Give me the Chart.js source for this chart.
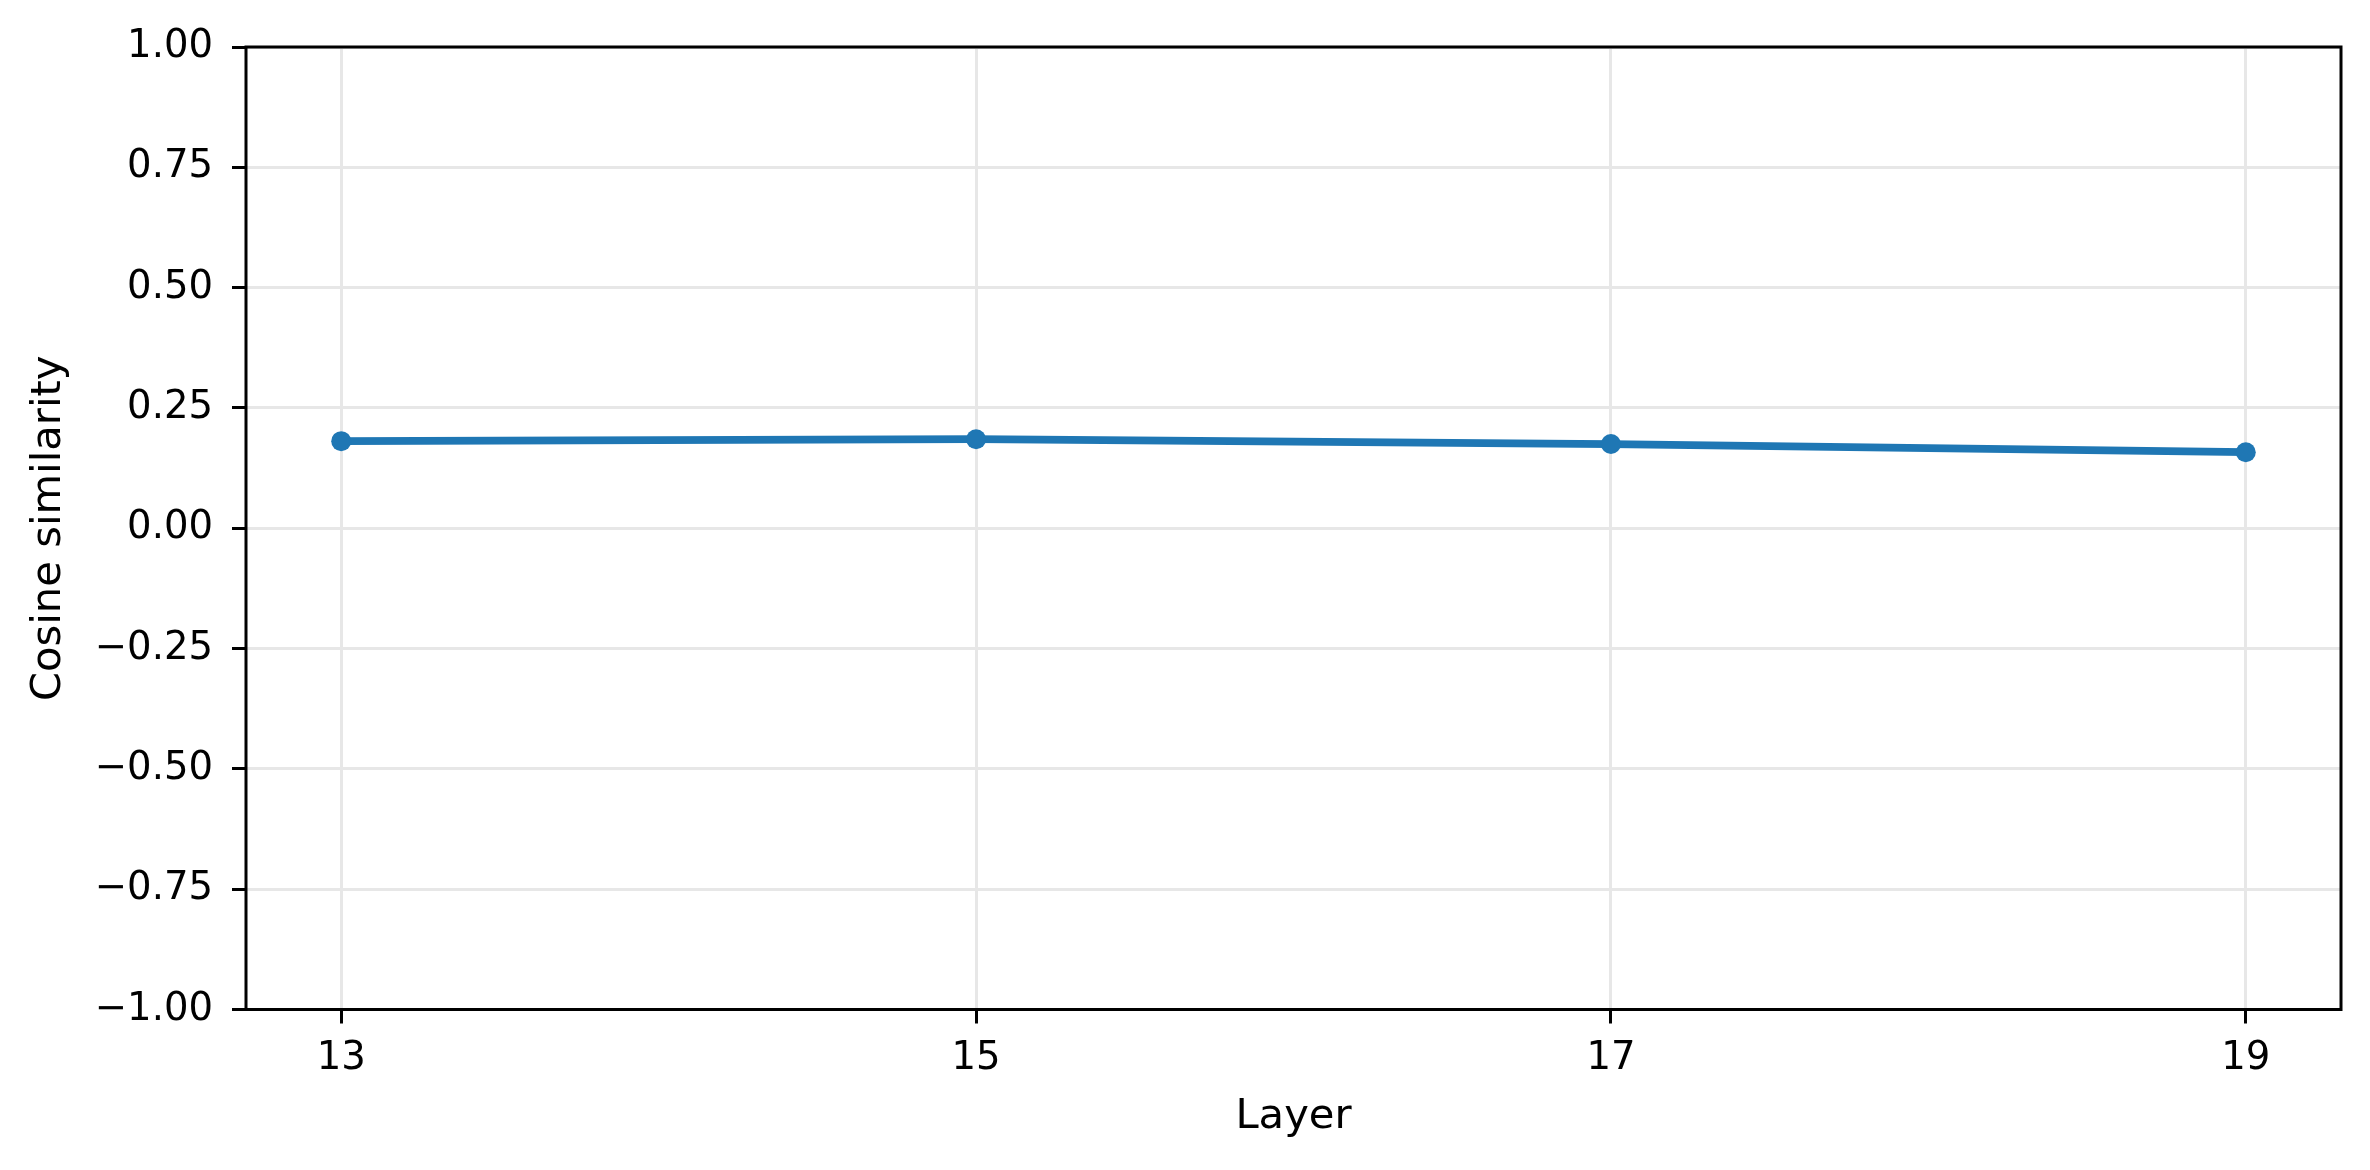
<!DOCTYPE html>
<html>
<head>
<meta charset="utf-8">
<script src="https://cdn.jsdelivr.net/npm/chart.js@4/dist/chart.umd.min.js"></script>
<style>
  html, body { margin: 0; padding: 0; background: #ffffff; }
  #wrap { width: 2370px; height: 1170px; }
</style>
</head>
<body>
<div id="wrap"><canvas id="c" width="2370" height="1170"></canvas></div>
<script>
const layers = [13, 15, 17, 19];
const cosineSimilarity = [0.181, 0.185, 0.175, 0.158];
const xTickValues = [13, 15, 17, 19];
const yTickValues = [-1, -0.75, -0.5, -0.25, 0, 0.25, 0.5, 0.75, 1];

const FONT = "'DejaVu Sans', 'Liberation Sans', sans-serif";

const framePlugin = {
  id: 'frame',
  afterDatasetsDraw(chart) {
    const {ctx, chartArea: a} = chart;
    ctx.save();
    ctx.strokeStyle = '#000000';
    ctx.lineWidth = 3;
    ctx.lineJoin = 'miter';
    ctx.strokeRect(a.left, a.top, a.right - a.left, a.bottom - a.top);
    ctx.restore();
  }
};

new Chart(document.getElementById('c'), {
  type: 'line',
  data: {
    datasets: [{
      label: 'Cosine similarity',
      data: layers.map((l, i) => ({x: l, y: cosineSimilarity[i]})),
      borderColor: '#1f77b4',
      backgroundColor: '#1f77b4',
      borderWidth: 7.7,
      pointRadius: 10,
      pointHoverRadius: 10,
      pointBorderWidth: 0,
      pointBackgroundColor: '#1f77b4',
      tension: 0,
      fill: false,
      clip: false
    }]
  },
  options: {
    responsive: false,
    animation: false,
    devicePixelRatio: 1,
    layout: { padding: { left: 0, right: 29, top: 47, bottom: 0 } },
    plugins: {
      legend: { display: false },
      tooltip: { enabled: false },
      title: { display: false }
    },
    scales: {
      x: {
        type: 'linear',
        min: 12.7,
        max: 19.3,
        afterBuildTicks(scale) { scale.ticks = xTickValues.map(v => ({value: v})); },
        afterFit(scale) { scale.height = 160.5; },
        grid: {
          color: '#e7e7e7',
          lineWidth: 3,
          drawTicks: true,
          tickLength: 14,
          tickColor: '#000000',
          tickWidth: 3
        },
        border: { display: false },
        ticks: {
          color: '#000000',
          font: { family: FONT, size: 38.6, lineHeight: 1.2 },
          padding: 12,
          maxRotation: 0,
          autoSkip: false,
          callback: v => String(v)
        },
        title: {
          display: true,
          text: 'Layer',
          color: '#000000',
          font: { family: FONT, size: 41.7, lineHeight: 1 },
          padding: { top: 0, bottom: 32 }
        }
      },
      y: {
        type: 'linear',
        min: -1,
        max: 1,
        afterBuildTicks(scale) { scale.ticks = yTickValues.map(v => ({value: v})); },
        afterFit(scale) { scale.width = 246; },
        grid: {
          color: '#e7e7e7',
          lineWidth: 3,
          drawTicks: true,
          tickLength: 14,
          tickColor: '#000000',
          tickWidth: 3
        },
        border: { display: false },
        ticks: {
          color: '#000000',
          font: { family: FONT, size: 38.6, lineHeight: 1.2 },
          padding: 19,
          autoSkip: false,
          callback: v => (v < 0 ? '\u2212' + Math.abs(v).toFixed(2) : v.toFixed(2))
        },
        title: {
          display: true,
          text: 'Cosine similarity',
          color: '#000000',
          font: { family: FONT, size: 41.7, lineHeight: 1 },
          padding: { top: 28, bottom: 0 }
        }
      }
    }
  },
  plugins: [framePlugin]
});
</script>
</body>
</html>
